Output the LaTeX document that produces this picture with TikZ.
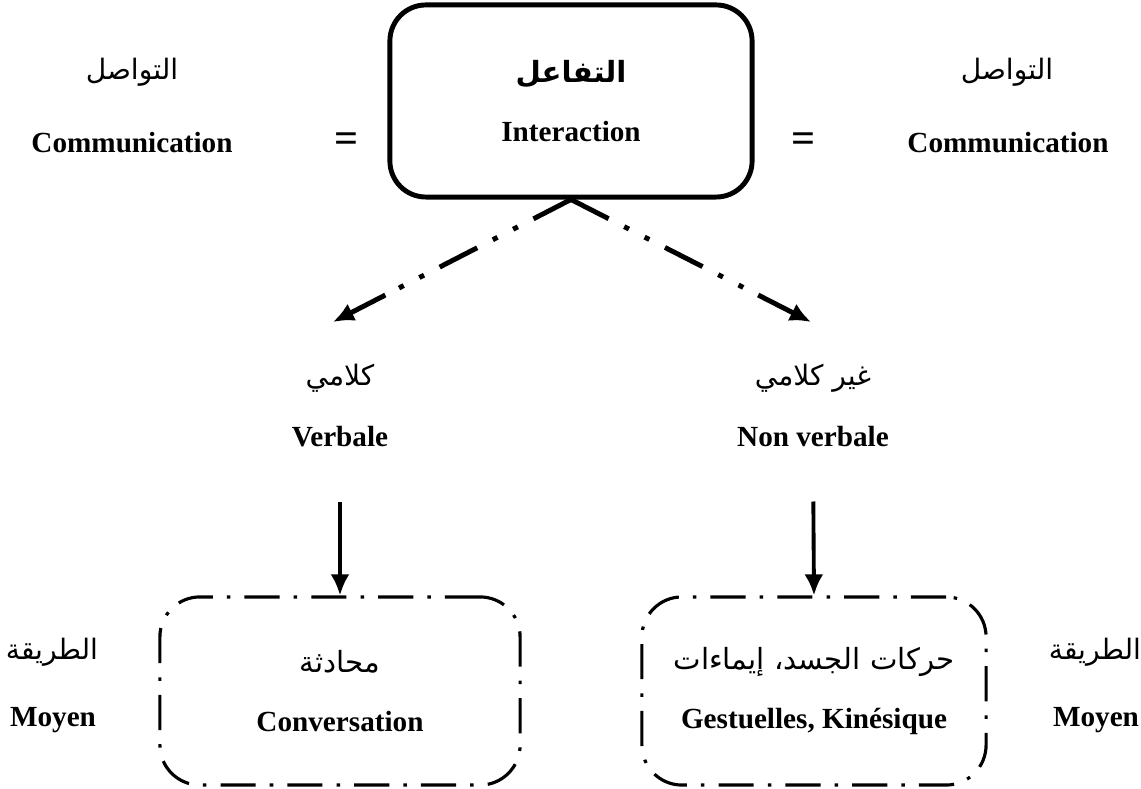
\documentclass[tikz,border=0pt]{standalone}
\usepackage{fontspec}
\setmainfont{Liberation Serif}
\newfontfamily\arabicfont[Script=Arabic]{DejaVu Sans}
\TeXXeTstate=1
\usetikzlibrary{arrows.meta, calc}
\newcommand{\artxt}[1]{{\arabicfont\mdseries\beginR #1\endR}}

\begin{document}
\begin{tikzpicture}[x=0.01cm, y=-0.01cm,
  every node/.style={font=\fontsize{8.3}{10}\selectfont\bfseries, inner sep=1pt},
  arlabel/.style={font=\fontsize{8}{10}\selectfont\arabicfont\mdseries},
  eqsign/.style={font=\fontsize{12}{12}\selectfont\bfseries},
  mainbox/.style={draw, line width=1.4pt, rounded corners=0.36cm,
    minimum width=3.62cm, minimum height=1.92cm, align=center},
  waybox/.style={draw, line width=0.9pt, rounded corners=0.4cm,
    dash pattern=on 10pt off 4pt on 1pt off 4pt,
    minimum height=1.88cm, align=center},
  arrow/.style={-{Latex[length=2.1mm,width=1.9mm]}, line width=1.1pt},
  dotline/.style={line width=1.4pt,
    dash pattern=on 12pt off 5pt on 1.5pt off 5pt on 1.5pt off 5pt}]

\useasboundingbox (0,0) rectangle (1141,789);

% top row
\node[mainbox] (interact) at (571,101)
  {{\arabicfont\bfseries\beginR التفاعل\endR}\\[7pt] Interaction};
\node[arlabel] (commLAr) at (132,72) {\artxt{التواصل}};
\node (commL) at (132,143) {Communication};
\node[arlabel] (commRAr) at (1007,72) {\artxt{التواصل}};
\node (commR) at (1008,143) {Communication};
\node[eqsign] (eqL) at (347,143) {=};
\node[eqsign] (eqR) at (804,143) {=};

% middle row
\coordinate (verbTip) at (333,322);
\coordinate (nonTip) at (811,322);
\node[arlabel] (verbAr) at (340,378) {\artxt{كلامي}};
\node (verb) at (340,437) {Verbale};
\node[arlabel] (nonAr) at (813,378) {\artxt{غير كلامي}};
\node (non) at (813,437) {Non verbale};

% bottom row
\node[waybox, minimum width=3.6cm] (conv) at (340,691)
  {\artxt{محادثة}\\[7pt] Conversation};
\node[waybox, minimum width=3.44cm] (gest) at (814,691)
  {\artxt{حركات الجسد، إيماءات}\\[7pt] Gestuelles, Kinésique};
\node[arlabel] (moyLAr) at (52,652) {\artxt{الطريقة}};
\node (moyL) at (53,720) {Moyen};
\node[arlabel] (moyRAr) at (1095,652) {\artxt{الطريقة}};
\node (moyR) at (1096,720) {Moyen};

% dash-dot-dot links, solid last piece with the tip
\draw[dotline] (interact.south) -- ($(interact.south)!0.78!(verbTip)$);
\draw[arrow, line width=1.4pt] ($(interact.south)!0.78!(verbTip)$) -- (verbTip);
\draw[dotline] (interact.south) -- ($(interact.south)!0.78!(nonTip)$);
\draw[arrow, line width=1.4pt] ($(interact.south)!0.78!(nonTip)$) -- (nonTip);
\draw[arrow, shorten <=0.5cm] (verb.south) -- (conv.north);
\draw[arrow, shorten <=0.5cm] (non.south) -- (gest.north);

\end{tikzpicture}
\end{document}
